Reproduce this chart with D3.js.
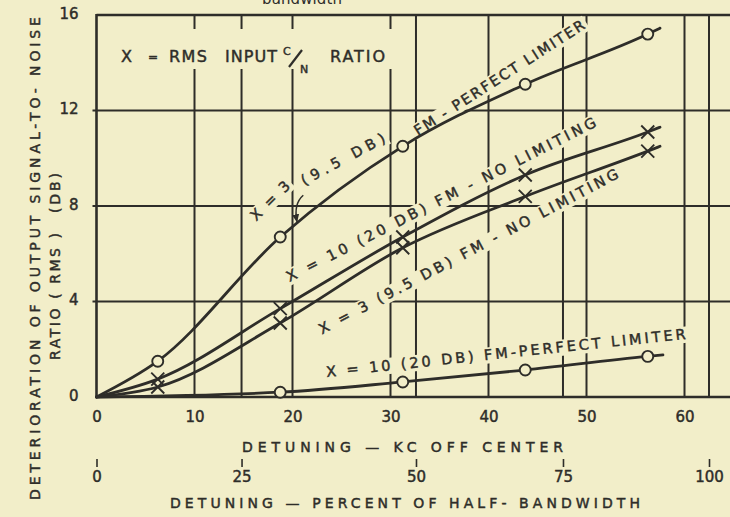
<!DOCTYPE html>
<html>
<head>
<meta charset="utf-8">
<script src="https://cdn.jsdelivr.net/npm/d3@7"></script>
<style>
    html, body { margin: 0; padding: 0; background: #f2eec9; }
    svg { display: block; }
    text { font-family: "DejaVu Sans", sans-serif; fill: #2e2d29; stroke: #2e2d29; stroke-width: 0.45px; }
</style>
</head>
<body>
<div id="chart"></div>
<script>
// Axis ticks
const kcTicks = [0, 10, 20, 30, 40, 50, 60];
const dbTicks = [0, 4, 8, 12, 16];
const pctTicks = [0, 25, 50, 75, 100];
// where the percent ticks sit on the kc scale (read off the scan, not quite even)
const pctTickKc = [0, 14.8, 32.6, 47.6, 62.5];

// Curves: detuning (kc) / deterioration (db). First and last points are line ends, the rest get markers.
const limiter3Kc = [0, 6.25, 18.75, 31.25, 43.75, 56.25, 57.5];
const limiter3Db = [0, 1.5, 6.7, 10.5, 13.1, 15.2, 15.45];

const noLimit10Kc = [0, 6.25, 18.75, 31.25, 43.75, 56.25, 57.5];
const noLimit10Db = [0, 0.75, 3.7, 6.7, 9.3, 11.1, 11.3];

const noLimit3Kc = [0, 6.25, 18.75, 31.25, 43.75, 56.25, 57.5];
const noLimit3Db = [0, 0.42, 3.1, 6.25, 8.4, 10.3, 10.5];

const limiter10Kc = [0, 18.75, 31.25, 43.75, 56.25, 57.8];
const limiter10Db = [0, 0.2, 0.63, 1.13, 1.7, 1.76];

const INK = '#2e2d29';
const BG = '#f2eec9';
const W = 730, H = 517;

const series = [
    { kc: limiter3Kc, db: limiter3Db, marker: 'circle' },
    { kc: noLimit10Kc, db: noLimit10Db, marker: 'cross' },
    { kc: noLimit3Kc, db: noLimit3Db, marker: 'cross' },
    { kc: limiter10Kc, db: limiter10Db, marker: 'circle' }
].map(s => ({ marker: s.marker, pts: s.kc.map((k, i) => ({ kc: k, db: s.db[i] })) }));

// Labels written along the curves: baseline start / end in data units
const curveLabels = [
    { text: 'X = 3', from: [16.3, 7.35], to: [19.85, 8.8] },
    { text: '(9.5 DB)', from: [21.2, 8.85], to: [29.6, 10.7] },
    { text: 'FM - PERFECT LIMITER', from: [32.8, 10.93], to: [49.95, 15.46] },
    { text: 'X = 10 (20 DB)  FM - NO LIMITING', from: [19.7, 4.82], to: [51.1, 11.35] },
    { text: 'X = 3 (9.5 DB)  FM - NO LIMITING', from: [23.0, 2.62], to: [53.4, 9.2] },
    { text: 'X = 10 (20 DB) FM-PERFECT LIMITER', from: [23.5, 0.84], to: [60.15, 2.43] }
];

const svg = d3.select('#chart').append('svg')
    .attr('width', W).attr('height', H)
    .attr('viewBox', `0 0 ${W} ${H}`);

svg.append('rect').attr('width', W).attr('height', H).attr('fill', BG);

const x = d3.scaleLinear().domain([0, 60]).range([96.5, 684.5]);
const y = d3.scaleLinear().domain([0, 16]).range([397, 15]);
const pctX = d3.scaleLinear().domain(pctTicks).range(pctTickKc.map(k => x(k)));

// Grid
const grid = svg.append('g').attr('stroke', INK).attr('stroke-width', 2);
grid.selectAll('.hline')
    .data(dbTicks.filter(d => d > 0 && d < 16))
    .enter().append('line')
    .attr('x1', x(0) - 4).attr('x2', W)
    .attr('y1', d => y(d)).attr('y2', d => y(d));
grid.selectAll('.vkc')
    .data(kcTicks.filter(d => d > 0))
    .enter().append('line')
    .attr('x1', d => x(d)).attr('x2', d => x(d))
    .attr('y1', y(0)).attr('y2', y(16));
grid.selectAll('.vpct')
    .data(pctTicks.filter(d => d > 0))
    .enter().append('line')
    .attr('x1', d => pctX(d)).attr('x2', d => pctX(d))
    .attr('y1', y(0)).attr('y2', y(16));

// Frame: top, left, bottom
const frame = svg.append('g').attr('stroke', INK).attr('stroke-width', 2.6);
frame.append('line').attr('x1', x(0)).attr('x2', W).attr('y1', y(16)).attr('y2', y(16));
frame.append('line').attr('x1', x(0)).attr('x2', W).attr('y1', y(0)).attr('y2', y(0));
frame.append('line').attr('x1', x(0)).attr('x2', x(0)).attr('y1', y(0) + 1).attr('y2', y(16) - 1);

// Gaps in the grid behind the lettering
const halo = svg.append('g').attr('fill', BG);
halo.append('rect').attr('x', 104).attr('y', 29).attr('width', 294).attr('height', 40);

const LABEL_SIZE = 14.5;
function labelGeom(l) {
    const x0 = x(l.from[0]), y0 = y(l.from[1]);
    const x1 = x(l.to[0]), y1 = y(l.to[1]);
    return {
        x0, y0,
        ang: Math.atan2(y1 - y0, x1 - x0) * 180 / Math.PI,
        len: Math.hypot(x1 - x0, y1 - y0)
    };
}
curveLabels.forEach(l => {
    const g = labelGeom(l);
    halo.append('rect')
        .attr('transform', `translate(${g.x0},${g.y0}) rotate(${g.ang})`)
        .attr('x', -3).attr('y', -LABEL_SIZE * 0.86)
        .attr('width', g.len + 6).attr('height', LABEL_SIZE * 1.12);
});

// Curves
const line = d3.line()
    .x(d => x(d.kc))
    .y(d => y(d.db))
    .curve(d3.curveMonotoneX);

svg.selectAll('.curve')
    .data(series)
    .enter().append('path')
    .attr('fill', 'none')
    .attr('stroke', INK)
    .attr('stroke-width', 2.8)
    .attr('stroke-linecap', 'round')
    .attr('d', d => line(d.pts));

// Markers
series.forEach(s => {
    const pts = s.pts.slice(1, -1);
    if (s.marker === 'circle') {
        svg.append('g').selectAll('circle')
            .data(pts).enter().append('circle')
            .attr('cx', d => x(d.kc)).attr('cy', d => y(d.db))
            .attr('r', 5.5)
            .attr('fill', BG).attr('stroke', INK).attr('stroke-width', 1.9);
    } else {
        svg.append('g').selectAll('path')
            .data(pts).enter().append('path')
            .attr('transform', d => `translate(${x(d.kc)},${y(d.db)})`)
            .attr('d', 'M-6.5,-6.5L6.5,6.5M-6.5,6.5L6.5,-6.5')
            .attr('stroke', INK).attr('stroke-width', 1.9).attr('fill', 'none');
    }
});

// Curve lettering
const labels = svg.append('g');
curveLabels.forEach(l => {
    const g = labelGeom(l);
    labels.append('text')
        .attr('transform', `translate(${g.x0},${g.y0}) rotate(${g.ang})`)
        .attr('font-size', LABEL_SIZE)
        .attr('textLength', g.len)
        .attr('lengthAdjust', 'spacing')
        .text(l.text);
});

// Arrow from "X = 3" to its curve
svg.append('defs').append('marker')
    .attr('id', 'head').attr('viewBox', '0 0 10 10')
    .attr('refX', 8).attr('refY', 5)
    .attr('markerWidth', 6).attr('markerHeight', 6)
    .attr('orient', 'auto-start-reverse')
    .append('path').attr('d', 'M0,1L9,5L0,9Z').attr('fill', INK);
const aFrom = [21.1, 8.45], aTo = [20.45, 7.35], aCtl = [20.1, 8.1];
svg.append('path')
    .attr('d', `M${x(aFrom[0])},${y(aFrom[1])}Q${x(aCtl[0])},${y(aCtl[1])} ${x(aTo[0])},${y(aTo[1])}`)
    .attr('fill', 'none').attr('stroke', INK).attr('stroke-width', 1.5)
    .attr('marker-end', 'url(#head)');

// Axes (labels only)
const fontAxis = g => {
    g.select('.domain').remove();
    g.attr('font-family', null);
    g.selectAll('text').attr('font-size', 15);
};

svg.append('g')
    .attr('transform', `translate(0,${y(0)})`)
    .call(d3.axisBottom(x).tickValues(kcTicks).tickSize(0).tickPadding(14).tickFormat(d3.format('d')))
    .call(fontAxis);

svg.append('g')
    .attr('transform', `translate(${x(0)},0)`)
    .call(d3.axisLeft(y).tickValues(dbTicks).tickSize(0).tickPadding(18).tickFormat(d3.format('d')))
    .call(fontAxis)
    .selectAll('text').attr('dy', '0.2em');

svg.append('g')
    .attr('transform', 'translate(0,459)')
    .call(d3.axisBottom(pctX).tickValues(pctTicks).tickSize(8).tickPadding(4).tickFormat(d3.format('d')))
    .call(fontAxis)
    .call(g => g.selectAll('line').attr('stroke', INK).attr('stroke-width', 1.6));

// Axis titles
svg.append('text')
    .attr('x', 242).attr('y', 452)
    .attr('font-size', 14).attr('textLength', 321).attr('lengthAdjust', 'spacing')
    .text('DETUNING  —  KC  OFF  CENTER');

svg.append('text')
    .attr('x', 170).attr('y', 508)
    .attr('font-size', 14).attr('textLength', 470).attr('lengthAdjust', 'spacing')
    .text('DETUNING  — PERCENT  OF  HALF- BANDWIDTH');

svg.append('text')
    .attr('transform', 'translate(40,500) rotate(-90)')
    .attr('font-size', 14).attr('textLength', 483).attr('lengthAdjust', 'spacing')
    .text('DETERIORATION  OF  OUTPUT  SIGNAL-TO- NOISE');

svg.append('text')
    .attr('transform', 'translate(60,360) rotate(-90)')
    .attr('font-size', 14).attr('textLength', 127).attr('lengthAdjust', 'spacing')
    .text('RATIO  ( RMS )');

svg.append('text')
    .attr('transform', 'translate(60,213) rotate(-90)')
    .attr('font-size', 14).attr('textLength', 40).attr('lengthAdjust', 'spacing')
    .text('(DB)');

// Key: X = RMS INPUT C/N RATIO
const key = svg.append('g').attr('font-size', 16);
key.append('text').attr('x', 121).attr('y', 62).text('X');
key.append('text').attr('x', 148).attr('y', 61).attr('font-size', 12).text('=');
key.append('text').attr('x', 169).attr('y', 62).attr('textLength', 38).text('RMS');
key.append('text').attr('x', 225).attr('y', 62).attr('textLength', 52).text('INPUT');
key.append('text').attr('x', 283).attr('y', 55).attr('font-size', 11).text('C');
key.append('line').attr('x1', 289).attr('y1', 67).attr('x2', 302).attr('y2', 50)
    .attr('stroke', INK).attr('stroke-width', 2.2);
key.append('text').attr('x', 300).attr('y', 73).attr('font-size', 11).text('N');
key.append('text').attr('x', 330).attr('y', 62).attr('textLength', 55).text('RATIO');

// Cut-off line of the caption above the figure
svg.append('text')
    .attr('x', 262).attr('y', 4)
    .attr('font-family', '"DejaVu Serif", serif').attr('font-size', 15)
    .style('stroke-width', '0px')
    .attr('textLength', 80)
    .text('bandwidth');
</script>
</body>
</html>
